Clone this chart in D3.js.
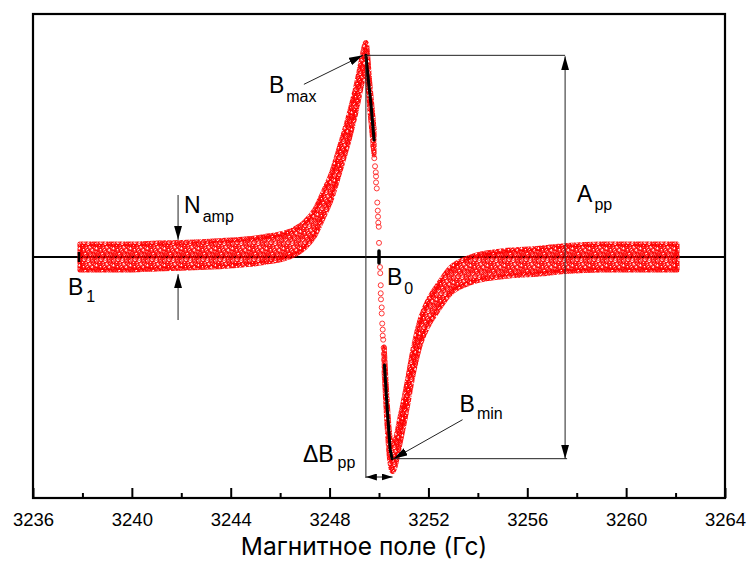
<!DOCTYPE html>
<html>
<head>
<meta charset="UTF-8">
<title>ЭПР</title>
<style>
  body { margin: 0; background: #fff; }
  svg text { font-family: "Liberation Sans", Arial, sans-serif; fill: #000; }
  .title { font-family: Inter, "Liberation Sans", sans-serif; font-size: 24.5px; }
  .tick text { font-family: "Liberation Sans", Arial, sans-serif; font-size: 18.5px; }
  .lbl { font-size: 23px; }
  .guide { stroke: #222; stroke-width: 1; fill: none; }
</style>
</head>
<body>
<svg id="chart" width="748" height="561"></svg>
<script src="https://cdn.jsdelivr.net/npm/d3@7"></script>
<script>
// centre line of the noisy band (field in Gs, signal in peak units)
const bandLeftField = [3237.9, 3239, 3240, 3241, 3242, 3243, 3244, 3245, 3245.5, 3246, 3246.5, 3247, 3247.4, 3247.75, 3248.1, 3248.4, 3248.8, 3249.1, 3249.3, 3249.47, 3249.64, 3249.8];
const bandLeftValue = [0, 0, 0, 0.005, 0.008, 0.013, 0.02, 0.03, 0.04, 0.05, 0.07, 0.11, 0.17, 0.26, 0.36, 0.48, 0.65, 0.80, 0.92, 1.0, 0.78, 0.57];
const bandRightField = [3250.21, 3250.32, 3250.44, 3250.55, 3250.85, 3251.13, 3251.38, 3251.7, 3251.98, 3252.39, 3252.87, 3253.68, 3254.9, 3256.5, 3257.5, 3259, 3260.5, 3262.06];
const bandRightValue = [-0.51, -0.76, -0.95, -1.0, -0.86, -0.69, -0.52, -0.36, -0.28, -0.20, -0.12, -0.065, -0.035, -0.02, -0.008, 0, 0, 0];
const noiseAmp = 0.064;

// sparse points on the steep middle part
const midField = [3249.77, 3249.81, 3249.84, 3249.87, 3249.88, 3249.88, 3249.91, 3249.93, 3249.95, 3249.96, 3249.97, 3249.99, 3250.00, 3250.04, 3250.05, 3250.07, 3250.07, 3250.08, 3250.11, 3250.11, 3250.13, 3250.15, 3250.15, 3250.17, 3250.19, 3250.20, 3250.21];
const midValue = [0.55, 0.49, 0.45, 0.42, 0.40, 0.37, 0.34, 0.27, 0.23, 0.20, 0.17, 0.15, 0.07, -0.05, -0.08, -0.14, -0.18, -0.21, -0.25, -0.28, -0.33, -0.36, -0.39, -0.41, -0.45, -0.48, -0.51];

// black fitted pieces
const fitPeakField = [3249.47, 3249.55, 3249.68, 3249.80];
const fitPeakValue = [1.0, 0.90, 0.75, 0.58];
const fitMinField = [3250.22, 3250.32, 3250.45, 3250.53];
const fitMinValue = [-0.535, -0.73, -0.955, -1.0];

const majorTicks = [3236, 3240, 3244, 3248, 3252, 3256, 3260, 3264];
const minorTicks = [3238, 3242, 3246, 3250, 3254, 3258, 3262];

const peak = { field: 3249.47, value: 1.0 };
const trough = { field: 3250.55, value: -1.0 };
const b1Field = 3237.86, b0Field = 3250.0;
const appField = 3257.53, nampField = 3241.87;

const svg = d3.select("#chart");
const x = d3.scaleLinear().domain([3236, 3264]).range([33, 725]);
const y = d3.scaleLinear().domain([-1.195, 1.205]).range([498, 14]);

// defs: dot pattern + arrow heads
const defs = svg.append("defs");
const T = 17;
const pat = defs.append("pattern").attr("id", "dots")
    .attr("patternUnits", "userSpaceOnUse").attr("width", T).attr("height", T);
const cells = [[1.2, 1.7], [5.6, 0.4], [9.3, 2.6], [13.8, 1.1], [16.2, 4.4], [3.1, 5.2], [7.4, 4.9],
    [11.7, 6.1], [14.6, 8.3], [0.6, 8.8], [4.9, 9.4], [8.8, 8.1], [12.2, 10.7], [2.6, 12.9],
    [6.9, 12.4], [10.1, 13.9], [15.3, 12.6], [0.9, 16.1], [5.2, 15.8], [13.4, 15.6], [8.6, 16.6],
    [16.4, 16.0], [3.3, 2.9], [11.2, 0.2], [7.2, 7.0], [15.8, 10.5], [10.4, 10.3], [1.9, 10.8],
    [4.2, 14.3], [11.8, 14.9], [15.0, 6.2], [9.1, 5.6]];
cells.forEach(c => {
    [-T, 0, T].forEach(dx => [-T, 0, T].forEach(dy => {
        pat.append("circle").attr("cx", c[0] + dx).attr("cy", c[1] + dy).attr("r", 2.4)
            .attr("fill", "none").attr("stroke", "#ff0000").attr("stroke-width", 0.85);
    }));
});
function head(id, len, wid) {
    defs.append("marker").attr("id", id)
        .attr("viewBox", `0 0 ${len} ${wid}`).attr("refX", len).attr("refY", wid / 2)
        .attr("markerWidth", len).attr("markerHeight", wid)
        .attr("markerUnits", "userSpaceOnUse").attr("orient", "auto-start-reverse")
        .append("path").attr("d", `M0,0 L${len},${wid / 2} L0,${wid} Z`).attr("fill", "#000");
}
head("ah", 14, 8);
head("ahs", 11, 7);

// baseline
svg.append("line").attr("x1", x(3236)).attr("x2", x(3264)).attr("y1", y(0)).attr("y2", y(0))
    .attr("stroke", "#000").attr("stroke-width", 2);

// noisy band
const band = d3.area()
    .x(d => x(d[0]))
    .y0(d => y(d[1] - noiseAmp))
    .y1(d => y(d[1] + noiseAmp))
    .curve(d3.curveMonotoneX);
[[bandLeftField, bandLeftValue], [bandRightField, bandRightValue]].forEach(s => {
    const pts = s[0].map((f, i) => [f, s[1][i]]);
    svg.append("path").datum(pts).attr("d", band)
        .attr("fill", "url(#dots)").attr("stroke", "url(#dots)")
        .attr("stroke-width", 5).attr("stroke-linejoin", "round");
});

svg.append("g").selectAll("circle").data(midField.map((f, i) => [f, midValue[i]]))
    .join("circle")
    .attr("cx", d => x(d[0])).attr("cy", d => y(d[1])).attr("r", 2.5)
    .attr("fill", "none").attr("stroke", "#ff2020").attr("stroke-width", 0.9);

const fitLine = d3.line().x(d => x(d[0])).y(d => y(d[1]));
[[fitPeakField, fitPeakValue], [fitMinField, fitMinValue]].forEach(s => {
    svg.append("path").datum(s[0].map((f, i) => [f, s[1][i]])).attr("d", fitLine)
        .attr("fill", "none").attr("stroke", "#000").attr("stroke-width", 3)
        .attr("stroke-linecap", "round");
});

// B1 / B0 markers
svg.append("line").attr("x1", x(b1Field)).attr("x2", x(b1Field))
    .attr("y1", y(0) - 5).attr("y2", y(0) + 5).attr("stroke", "#000").attr("stroke-width", 2.5);
svg.append("line").attr("x1", x(b0Field)).attr("x2", x(b0Field))
    .attr("y1", y(0) - 6).attr("y2", y(0) + 6).attr("stroke", "#000").attr("stroke-width", 3.5)
    .attr("stroke-linecap", "round");

// guides
const px = x(peak.field), py = y(peak.value), tx = x(trough.field), ty = y(trough.value);
const ax = x(appField);
svg.append("line").attr("class", "guide").attr("x1", px).attr("x2", px).attr("y1", py).attr("y2", 478);
svg.append("line").attr("class", "guide").attr("x1", px).attr("x2", ax).attr("y1", py).attr("y2", py);
svg.append("line").attr("class", "guide").attr("x1", tx).attr("x2", ax + 2).attr("y1", ty).attr("y2", ty);
svg.append("line").attr("class", "guide").attr("x1", ax).attr("x2", ax).attr("y1", py + 1).attr("y2", ty)
    .attr("marker-start", "url(#ah)").attr("marker-end", "url(#ah)");
svg.append("line").attr("class", "guide").attr("x1", px).attr("x2", tx).attr("y1", 477).attr("y2", 477)
    .attr("marker-start", "url(#ahs)").attr("marker-end", "url(#ahs)");
svg.append("line").attr("class", "guide").attr("x1", px - 62).attr("x2", px - 3).attr("y1", py + 29).attr("y2", py)
    .attr("marker-end", "url(#ah)");
svg.append("line").attr("class", "guide").attr("x1", tx + 70).attr("x2", tx + 1).attr("y1", ty - 39).attr("y2", ty)
    .attr("marker-end", "url(#ah)");
const nx = x(nampField);
svg.append("line").attr("class", "guide").attr("x1", nx).attr("x2", nx).attr("y1", 195).attr("y2", y(0.085))
    .attr("marker-end", "url(#ah)");
svg.append("line").attr("class", "guide").attr("x1", nx).attr("x2", nx).attr("y1", 320).attr("y2", y(-0.085))
    .attr("marker-end", "url(#ah)");

// labels
function label(tx0, ty0, main, sub, dx, dy) {
    const t = svg.append("text").attr("class", "lbl").attr("x", tx0).attr("y", ty0);
    t.append("tspan").text(main);
    t.append("tspan").attr("dx", dx).attr("dy", dy).attr("font-size", 16).text(sub);
}
label(px - 97, 93, "B", "max", 2, 9);
label(nx + 6, 213, "N", "amp", 2, 9);
label(x(b1Field) - 11, 295, "B", "1", 3, 7);
label(x(b0Field) + 8, 285, "B", "0", 2, 9);
label(tx + 67, 412, "B", "min", 2, 7);
label(px - 63, 462, "ΔB", "pp", 4, 6);
label(ax + 12, 202, "A", "pp", 2, 8);

// frame and axis
svg.append("rect").attr("x", 33).attr("y", 14).attr("width", 692).attr("height", 484)
    .attr("fill", "none").attr("stroke", "#000").attr("stroke-width", 2.2);
const gx = svg.append("g").attr("transform", "translate(0,498)")
    .call(d3.axisBottom(x).tickValues(majorTicks).tickSizeInner(-10).tickSizeOuter(0)
        .tickPadding(14.5).tickFormat(d3.format("d")));
gx.select(".domain").remove();
gx.selectAll(".tick line").attr("stroke-width", 2);
const gm = svg.append("g").attr("transform", "translate(0,498)")
    .call(d3.axisBottom(x).tickValues(minorTicks).tickSizeInner(-5).tickSizeOuter(0).tickFormat(""));
gm.select(".domain").remove();
gm.selectAll(".tick line").attr("stroke-width", 2);

svg.append("text").attr("class", "title").attr("x", 364).attr("y", 555)
    .attr("text-anchor", "middle").text("Магнитное поле (Гс)");
</script>
</body>
</html>
